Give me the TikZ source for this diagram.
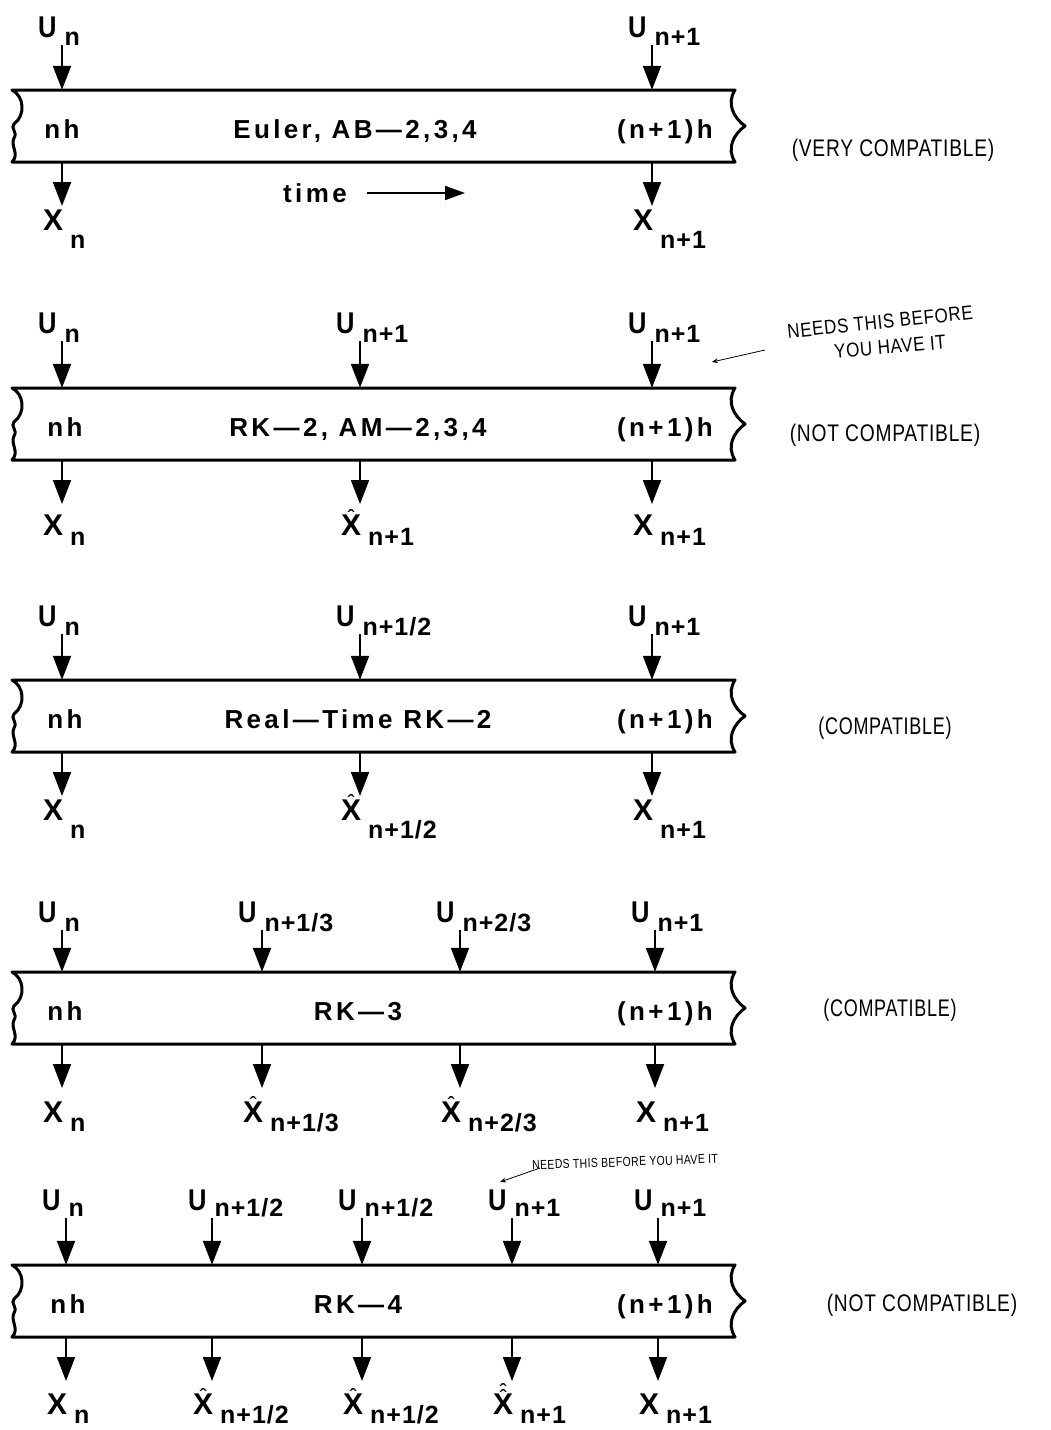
\documentclass[tikz,border=0pt]{standalone}
\usepackage{graphicx}
\usepackage{fontspec}
\setmainfont{Liberation Sans}
\newfontfamily\plotfont[LetterSpace=13]{Liberation Sans}
\newfontfamily\letterfont{Liberation Sans}
\newfontfamily\subfont[LetterSpace=4]{Liberation Sans}
\newfontfamily\handfont[LetterSpace=4]{Liberation Sans}
\usetikzlibrary{arrows.meta}
\newcommand\subtxt[2]{\raisebox{-#1}{\subfont\fontsize{25}{25}\selectfont\bfseries #2}}
\newcommand\hatglyph{{\mdseries\fontsize{22}{22}\selectfont\char"02C6\relax}}
\newcommand\hx{\ooalign{X\cr\hidewidth\raisebox{10pt}{\hatglyph}\hidewidth\cr}}
\newcommand\hhx{\ooalign{X\cr\hidewidth\raisebox{9pt}{\hatglyph}\hidewidth\cr\hidewidth\raisebox{15pt}{\hatglyph}\hidewidth\cr}}
\newcommand\mdash{\char"2014\relax}
\tikzset{
  lbl/.style={font=\letterfont\fontsize{30}{30}\selectfont\bfseries, inner sep=0pt, anchor=base west},
  arr/.style={line width=2pt, -{Triangle[length=24pt,width=18pt]}},
  tarr/.style={line width=2pt, -{Triangle[length=20pt,width=14pt]}},
  bandline/.style={line width=3pt, line join=round},
  bandbox/.style={minimum width=723pt, minimum height=72pt, inner sep=0pt},
  bandtxt/.style={font=\plotfont\fontsize{26}{26}\selectfont\bfseries, inner sep=0pt, anchor=base},
  bandbold/.style={bandtxt},
  hand/.style={font=\handfont\fontsize{24}{24}\selectfont, inner sep=0pt},
  handsmall/.style={font=\handfont\fontsize{20}{20}\selectfont, inner sep=0pt},
  handtiny/.style={font=\handfont\fontsize{13}{13}\selectfont, inner sep=0pt},
  noteline/.style={line width=0.8pt, -{Stealth[length=6pt,width=5pt]}},
}
% band: name, top
\newcommand\bandpanel[2]{%
  \node[bandbox] (#1) at (373.5,#2+36) {};
  \draw[bandline] (12,#2) -- (735,#2)
    .. controls (726,#2+14) and (734,#2+28) .. (745,#2+36)
    .. controls (734,#2+44) and (726,#2+58) .. (735,#2+72)
    -- (12,#2+72)
    .. controls (20,#2+64) and (10,#2+56) .. (14,#2+48)
    .. controls (18,#2+42) and (10,#2+38) .. (14,#2+34)
    .. controls (26,#2+25) and (24,#2+6) .. (12,#2) -- cycle;
}
% input: name, x, band, U baseline, drop, subscript
\newcommand\inarrow[6]{%
  \node[lbl] (#1) at (#2-24,#4) {\scalebox{0.85}[1]{U}\hspace{8pt}\subtxt{#5}{#6}};
  \coordinate (#1a) at (#2,#4+8);
  \draw[arr] (#1a) -- (#1a |- #3.north);
}
% output: name, x, top, band, X baseline, drop, letter, subscript
\newcommand\outarrow[8]{%
  \node[lbl] (#1) at (#2-19,#5) {#7\hspace{7pt}\subtxt{#6}{#8}};
  \coordinate (#1a) at (#2,#3+116);
  \draw[arr] (#1a |- #4.south) -- (#1a);
}
\begin{document}
\begin{tikzpicture}[x=1pt,y=-1pt]
\useasboundingbox (0,0) rectangle (1051,1430);

% ---------- Panel 1 ----------
\bandpanel{b1}{90}
\inarrow{u1a}{62}{b1}{37}{8pt}{n}
\inarrow{u1b}{652}{b1}{37}{8pt}{n+1}
\outarrow{x1a}{62}{90}{b1}{230}{18pt}{X}{n}
\outarrow{x1b}{652}{90}{b1}{230}{18pt}{X}{n+1}
\node[bandbold] (t1a) at (62,138) {nh};
\node[bandtxt] (t1b) at (355,138) {Euler, AB\mdash 2,3,4};
\node[bandbold] (t1c) at (665,138) {(n+1)h};
\node[bandtxt] (tm) at (315,202) {time};
\coordinate (ta0) at (367,193);
\coordinate (ta1) at (465,193);
\draw[tarr] (ta0) -- (ta1);
\node[hand] (c1) at (893,150) {\scalebox{0.8}[1]{(VERY COMPATIBLE)}};

% ---------- Panel 2 ----------
\bandpanel{b2}{388}
\inarrow{u2a}{62}{b2}{333}{9pt}{n}
\inarrow{u2b}{360}{b2}{333}{9pt}{n+1}
\inarrow{u2c}{652}{b2}{333}{9pt}{n+1}
\outarrow{x2a}{62}{388}{b2}{535}{10pt}{X}{n}
\outarrow{x2b}{360}{388}{b2}{535}{10pt}{\hx}{n+1}
\outarrow{x2c}{652}{388}{b2}{535}{10pt}{X}{n+1}
\node[bandbold] (t2a) at (65,436) {nh};
\node[bandtxt] (t2b) at (358,436) {RK\mdash 2, AM\mdash 2,3,4};
\node[bandbold] (t2c) at (665,436) {(n+1)h};
\node[handsmall, rotate=6] (n2a) at (880,322) {\scalebox{0.85}[1]{NEEDS THIS BEFORE}};
\node[handsmall, rotate=5] (n2b) at (890,347) {\scalebox{0.85}[1]{YOU HAVE IT}};
\coordinate (p2) at (712,362);
\coordinate (n2s) at (765,350);
\draw[noteline] (n2s) -- (p2);
\node[hand] (c2) at (885,435) {\scalebox{0.8}[1]{(NOT COMPATIBLE)}};

% ---------- Panel 3 ----------
\bandpanel{b3}{680}
\inarrow{u3a}{62}{b3}{626}{9pt}{n}
\inarrow{u3b}{360}{b3}{626}{9pt}{n+1/2}
\inarrow{u3c}{652}{b3}{626}{9pt}{n+1}
\outarrow{x3a}{62}{680}{b3}{820}{18pt}{X}{n}
\outarrow{x3b}{360}{680}{b3}{820}{18pt}{\hx}{n+1/2}
\outarrow{x3c}{652}{680}{b3}{820}{18pt}{X}{n+1}
\node[bandbold] (t3a) at (65,728) {nh};
\node[bandtxt] (t3b) at (358,728) {Real\mdash Time RK\mdash 2};
\node[bandbold] (t3c) at (665,728) {(n+1)h};
\node[hand] (c3) at (885,728) {\scalebox{0.75}[1]{(COMPATIBLE)}};

% ---------- Panel 4 ----------
\bandpanel{b4}{972}
\inarrow{u4a}{62}{b4}{922}{9pt}{n}
\inarrow{u4b}{262}{b4}{922}{9pt}{n+1/3}
\inarrow{u4c}{460}{b4}{922}{9pt}{n+2/3}
\inarrow{u4d}{655}{b4}{922}{9pt}{n+1}
\outarrow{x4a}{62}{972}{b4}{1122}{9pt}{X}{n}
\outarrow{x4b}{262}{972}{b4}{1122}{9pt}{\hx}{n+1/3}
\outarrow{x4c}{460}{972}{b4}{1122}{9pt}{\hx}{n+2/3}
\outarrow{x4d}{655}{972}{b4}{1122}{9pt}{X}{n+1}
\node[bandbold] (t4a) at (65,1020) {nh};
\node[bandtxt] (t4b) at (358,1020) {RK\mdash 3};
\node[bandbold] (t4c) at (665,1020) {(n+1)h};
\node[hand] (c4) at (890,1010) {\scalebox{0.75}[1]{(COMPATIBLE)}};

% ---------- Panel 5 ----------
\node[handtiny, rotate=2] (n5) at (625,1162) {\scalebox{0.8}[1]{NEEDS THIS BEFORE YOU HAVE IT}};
\coordinate (p5) at (500,1182);
\coordinate (n5s) at (540,1168);
\draw[noteline] (n5s) -- (p5);
\bandpanel{b5}{1265}
\inarrow{u5a}{66}{b5}{1210}{6pt}{n}
\inarrow{u5b}{212}{b5}{1210}{6pt}{n+1/2}
\inarrow{u5c}{362}{b5}{1210}{6pt}{n+1/2}
\inarrow{u5d}{512}{b5}{1210}{6pt}{n+1}
\inarrow{u5e}{658}{b5}{1210}{6pt}{n+1}
\outarrow{x5a}{66}{1265}{b5}{1414}{9pt}{X}{n}
\outarrow{x5b}{212}{1265}{b5}{1414}{9pt}{\hx}{n+1/2}
\outarrow{x5c}{362}{1265}{b5}{1414}{9pt}{\hx}{n+1/2}
\outarrow{x5d}{512}{1265}{b5}{1414}{9pt}{\hhx}{n+1}
\outarrow{x5e}{658}{1265}{b5}{1414}{9pt}{X}{n+1}
\node[bandbold] (t5a) at (68,1313) {nh};
\node[bandtxt] (t5b) at (358,1313) {RK\mdash 4};
\node[bandbold] (t5c) at (665,1313) {(n+1)h};
\node[hand] (c5) at (922,1305) {\scalebox{0.8}[1]{(NOT COMPATIBLE)}};
\end{tikzpicture}
\end{document}
